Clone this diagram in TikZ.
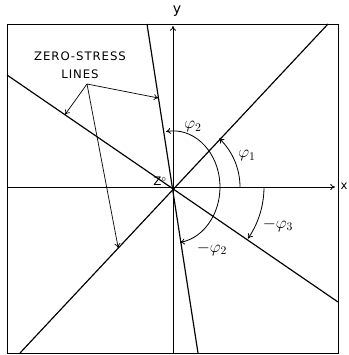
\documentclass[tikz,border=0pt]{standalone}
\usepackage{fontspec}
\usepackage{amsmath}
\usetikzlibrary{arrows.meta,calc}
\newfontfamily\letterfont[LetterSpace=8]{DejaVu Sans}
\tikzset{
  frameline/.style={line width=0.8pt},
  zsline/.style={line width=1pt},
  axisarr/.style={line width=0.7pt,-{To[length=4pt,width=5pt]}},
  anglearr/.style={line width=0.7pt,-{To[length=4pt,width=5pt]}},
  botharr/.style={line width=0.7pt,{To[length=4pt,width=5pt]}-{To[length=4pt,width=5pt]}},
  leader/.style={line width=0.6pt,-{To[length=4pt,width=5pt]}},
  anglelbl/.style={font=\Large,inner sep=0pt},
  letterlbl/.style={font=\letterfont,align=center,inner sep=0pt}
}

\begin{document}
\begin{tikzpicture}[x=0.03cm,y=0.03cm]
  \useasboundingbox (-173,-168) rectangle (176,187);
  \coordinate (O) at (0,0);
  % frame and axes
  \draw[frameline] (-166,-166) rectangle (165,163);
  \draw[axisarr] (-166,0) -- (162,0);
  \draw[axisarr] (0,-166) -- (0,161);
  \node[letterlbl,font=\letterfont\large] (ylbl) at (4,176) {y};
  \node[letterlbl,font=\letterfont] (xlbl) at (171,1) {x};
  \node[letterlbl,font=\letterfont\normalsize] (zo) at (-13,6) {Z$^{\circ}$};

  % zero-stress lines
  \coordinate (a1) at (-153,-166); \coordinate (b1) at (155,163);
  \coordinate (a2) at (-26,163);   \coordinate (b2) at (25,-166);
  \coordinate (a3) at (-166,112);  \coordinate (b3) at (165,-115);
  \draw[zsline] (a1) -- (b1);
  \draw[zsline] (a2) -- (b2);
  \draw[zsline] (a3) -- (b3);

  % angles
  \draw[anglearr] (67,0) arc[start angle=0,end angle=46.5,radius=67];
  \draw[botharr] ($(O)+(-81.4:47 and 56)$) arc[start angle=-81.4,end angle=98.6,x radius=47,y radius=56];
  \draw[anglearr] (91,0) arc[start angle=0,end angle=-34.5,radius=91];
  \node[anglelbl] (phi1) at (74,31) {$\varphi_1$};
  \node[anglelbl] (phi2) at (20,60) {$\varphi_2$};
  \node[anglelbl] (mphi2) at (39,-62) {$-\varphi_2$};
  \node[anglelbl] (mphi3) at (105,-38) {$-\varphi_3$};

  % label with leaders
  \node[letterlbl] (zs) at (-93,122) {ZERO-STRESS\\[3pt]LINES};
  \coordinate (src) at (-86,103);
  \draw[leader] (src) -- ($(a3)!0.175!(b3)$);
  \draw[leader] (src) -- ($(a2)!0.225!(b2)$);
  \draw[leader] (src) -- ($(a1)!0.319!(b1)$);
\end{tikzpicture}
\end{document}
